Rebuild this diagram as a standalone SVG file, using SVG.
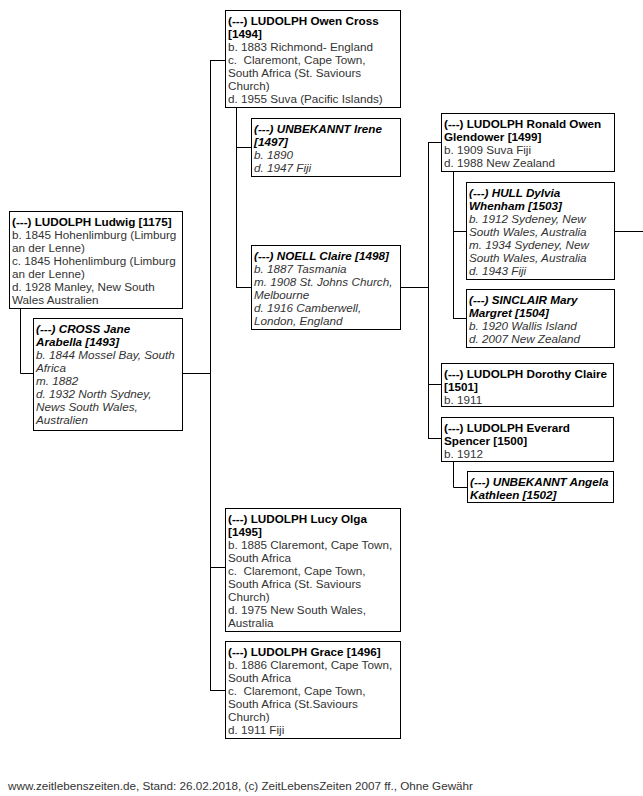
<svg xmlns="http://www.w3.org/2000/svg" width="643" height="796" viewBox="0 0 643 796">
<style>
.box{fill:#fff;stroke:#000;stroke-width:1}
text{font-family:"Liberation Sans",Arial,sans-serif;font-size:11.7px;fill:#333;white-space:pre}
.n{font-weight:bold;fill:#000}
.i{font-style:italic}
.c{fill:none;stroke:#000;stroke-width:1}
</style>
<rect width="643" height="796" fill="#fff"/>
<g id="connectors" class="c">
<path d="M20.5 308 V373.5 H33"/>
<path d="M183 373.5 H210.5"/>
<path d="M210.5 60.5 V690.5"/>
<path d="M210 60.5 H225"/>
<path d="M210 567.5 H225"/>
<path d="M210 690.5 H225"/>
<path d="M236.5 108 V287.5"/>
<path d="M236 147.5 H251"/>
<path d="M236 287.5 H251"/>
<path d="M400 287.5 H428.5"/>
<path d="M428.5 142.5 V438.5"/>
<path d="M428 142.5 H441"/>
<path d="M428 384.5 H441"/>
<path d="M428 438.5 H441"/>
<path d="M453.5 171 V318.5"/>
<path d="M453 231.5 H466"/>
<path d="M453 318.5 H466"/>
<path d="M614 231.5 H643"/>
<path d="M453.5 461 V487.5 H467"/>
</g>
<g id="n1175">
<rect class="box" x="9.5" y="211.5" width="173" height="97"/>
<text x="12" y="225.5"><tspan class="n">(---) LUDOLPH Ludwig [1175]</tspan><tspan x="12" dy="13">b. 1845 Hohenlimburg (Limburg</tspan><tspan x="12" dy="13">an der Lenne)</tspan><tspan x="12" dy="13">c. 1845 Hohenlimburg (Limburg</tspan><tspan x="12" dy="13">an der Lenne)</tspan><tspan x="12" dy="13">d. 1928 Manley, New South</tspan><tspan x="12" dy="13">Wales Australien</tspan></text>
</g>
<g id="n1493">
<rect class="box" x="33.5" y="318.5" width="149" height="112"/>
<text class="i" x="36" y="332.5"><tspan class="n">(---) CROSS Jane</tspan><tspan class="n" x="36" dy="13">Arabella [1493]</tspan><tspan x="36" dy="13">b. 1844 Mossel Bay, South</tspan><tspan x="36" dy="13">Africa</tspan><tspan x="36" dy="13">m. 1882</tspan><tspan x="36" dy="13">d. 1932 North Sydney,</tspan><tspan x="36" dy="13">News South Wales,</tspan><tspan x="36" dy="13">Australien</tspan></text>
</g>
<g id="n1494">
<rect class="box" x="225.5" y="10.5" width="175" height="97"/>
<text x="228" y="24.5"><tspan class="n">(---) LUDOLPH Owen Cross</tspan><tspan class="n" x="228" dy="13">[1494]</tspan><tspan x="228" dy="13">b. 1883 Richmond- England</tspan><tspan x="228" dy="13">c.  Claremont, Cape Town,</tspan><tspan x="228" dy="13">South Africa (St. Saviours</tspan><tspan x="228" dy="13">Church)</tspan><tspan x="228" dy="13">d. 1955 Suva (Pacific Islands)</tspan></text>
</g>
<g id="n1497">
<rect class="box" x="251.5" y="118.5" width="149" height="58"/>
<text class="i" x="254" y="132.5"><tspan class="n">(---) UNBEKANNT Irene</tspan><tspan class="n" x="254" dy="13">[1497]</tspan><tspan x="254" dy="13">b. 1890</tspan><tspan x="254" dy="13">d. 1947 Fiji</tspan></text>
</g>
<g id="n1498">
<rect class="box" x="251.5" y="245.5" width="149" height="84"/>
<text class="i" x="254" y="259.5"><tspan class="n">(---) NOELL Claire [1498]</tspan><tspan x="254" dy="13">b. 1887 Tasmania</tspan><tspan x="254" dy="13">m. 1908 St. Johns Church,</tspan><tspan x="254" dy="13">Melbourne</tspan><tspan x="254" dy="13">d. 1916 Camberwell,</tspan><tspan x="254" dy="13">London, England</tspan></text>
</g>
<g id="n1495">
<rect class="box" x="225.5" y="508.5" width="175" height="123"/>
<text x="228" y="522.5"><tspan class="n">(---) LUDOLPH Lucy Olga</tspan><tspan class="n" x="228" dy="13">[1495]</tspan><tspan x="228" dy="13">b. 1885 Claremont, Cape Town,</tspan><tspan x="228" dy="13">South Africa</tspan><tspan x="228" dy="13">c.  Claremont, Cape Town,</tspan><tspan x="228" dy="13">South Africa (St. Saviours</tspan><tspan x="228" dy="13">Church)</tspan><tspan x="228" dy="13">d. 1975 New South Wales,</tspan><tspan x="228" dy="13">Australia</tspan></text>
</g>
<g id="n1496">
<rect class="box" x="225.5" y="641.5" width="175" height="97"/>
<text x="228" y="655.5"><tspan class="n">(---) LUDOLPH Grace [1496]</tspan><tspan x="228" dy="13">b. 1886 Claremont, Cape Town,</tspan><tspan x="228" dy="13">South Africa</tspan><tspan x="228" dy="13">c.  Claremont, Cape Town,</tspan><tspan x="228" dy="13">South Africa (St.Saviours</tspan><tspan x="228" dy="13">Church)</tspan><tspan x="228" dy="13">d. 1911 Fiji</tspan></text>
</g>
<g id="n1499">
<rect class="box" x="441.5" y="113.5" width="173" height="58"/>
<text x="444" y="127.5"><tspan class="n">(---) LUDOLPH Ronald Owen</tspan><tspan class="n" x="444" dy="13">Glendower [1499]</tspan><tspan x="444" dy="13">b. 1909 Suva Fiji</tspan><tspan x="444" dy="13">d. 1988 New Zealand</tspan></text>
</g>
<g id="n1503">
<rect class="box" x="466.5" y="182.5" width="148" height="97"/>
<text class="i" x="469" y="196.5"><tspan class="n">(---) HULL Dylvia</tspan><tspan class="n" x="469" dy="13">Whenham [1503]</tspan><tspan x="469" dy="13">b. 1912 Sydeney, New</tspan><tspan x="469" dy="13">South Wales, Australia</tspan><tspan x="469" dy="13">m. 1934 Sydeney, New</tspan><tspan x="469" dy="13">South Wales, Australia</tspan><tspan x="469" dy="13">d. 1943 Fiji</tspan></text>
</g>
<g id="n1504">
<rect class="box" x="466.5" y="289.5" width="148" height="58"/>
<text class="i" x="469" y="303.5"><tspan class="n">(---) SINCLAIR Mary</tspan><tspan class="n" x="469" dy="13">Margret [1504]</tspan><tspan x="469" dy="13">b. 1920 Wallis Island</tspan><tspan x="469" dy="13">d. 2007 New Zealand</tspan></text>
</g>
<g id="n1501">
<rect class="box" x="441.5" y="363.5" width="172" height="43"/>
<text x="444" y="377.5"><tspan class="n">(---) LUDOLPH Dorothy Claire</tspan><tspan class="n" x="444" dy="13">[1501]</tspan><tspan x="444" dy="13">b. 1911</tspan></text>
</g>
<g id="n1500">
<rect class="box" x="441.5" y="417.5" width="172" height="44"/>
<text x="444" y="431.5"><tspan class="n">(---) LUDOLPH Everard</tspan><tspan class="n" x="444" dy="13">Spencer [1500]</tspan><tspan x="444" dy="13">b. 1912</tspan></text>
</g>
<g id="n1502">
<rect class="box" x="467.5" y="471.5" width="146" height="31"/>
<text class="i" x="470" y="485.5"><tspan class="n">(---) UNBEKANNT Angela</tspan><tspan class="n" x="470" dy="13">Kathleen [1502]</tspan></text>
</g>
<text x="8" y="790">www.zeitlebenszeiten.de, Stand: 26.02.2018, (c) ZeitLebensZeiten 2007 ff., Ohne Gewähr</text>
</svg>
